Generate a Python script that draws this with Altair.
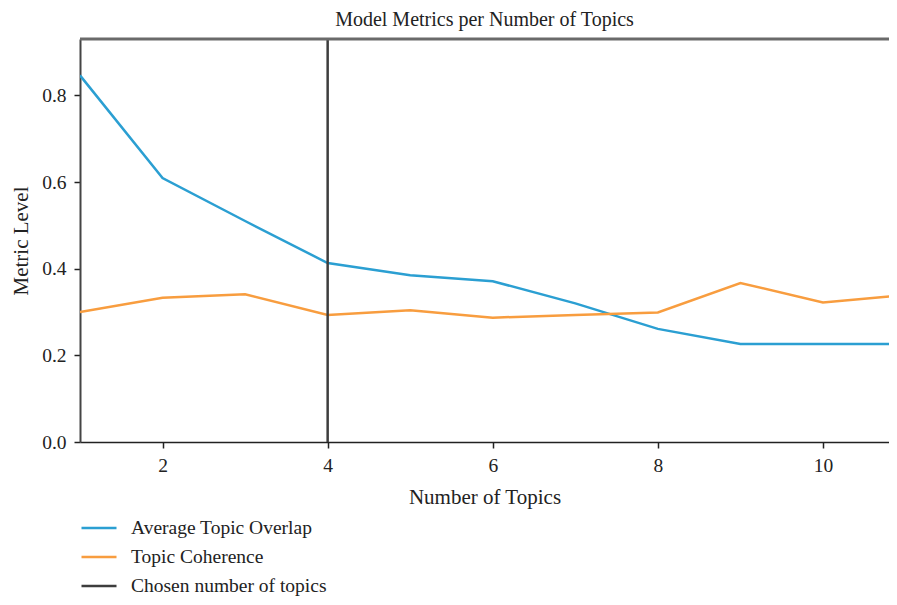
import altair as alt
import pandas as pd

topics = [1, 2, 3, 4, 5, 6, 7, 8, 9, 10, 11]
overlap = [0.846, 0.609, 0.51, 0.413, 0.385, 0.371, 0.32, 0.261, 0.226, 0.226, 0.226]
coherence = [0.300, 0.333, 0.341, 0.293, 0.304, 0.287, 0.293, 0.299, 0.367, 0.322, 0.339]
chosen_topics = [4]
series_names = ["Average Topic Overlap", "Topic Coherence", "Chosen number of topics"]
series_colors = ["#2b9fd2", "#f89d3f", "#3d3d3d"]
y_ticks = [0.0, 0.2, 0.4, 0.6, 0.8]
x_ticks = [2, 4, 6, 8, 10]
y_top = [0.93]

FONT = "Liberation Serif"

lines_df = pd.DataFrame(
    {"topics": topics * 2,
     "value": overlap + coherence,
     "series": [series_names[0]] * len(topics) + [series_names[1]] * len(topics)}
)
rule_df = pd.DataFrame({"topics": chosen_topics, "series": [series_names[2]]})
top_df = pd.DataFrame({"value": y_top})

x_scale = alt.Scale(domain=[1, 10.8], nice=False, zero=False)
y_scale = alt.Scale(domain=[0, y_top[0]], nice=False)
color_scale = alt.Scale(domain=series_names, range=series_colors)

legend = alt.Legend(
    title=None, orient="none", legendX=0, legendY=470,
    symbolType="stroke", symbolSize=1225, symbolStrokeWidth=2.5,
    labelFont=FONT, labelFontSize=19.5, labelColor="#222", labelOffset=13,
    labelLimit=0, rowPadding=-6,
)

lines = alt.Chart(lines_df).mark_line(clip=True, strokeWidth=2.5).encode(
    x=alt.X("topics:Q", scale=x_scale,
            axis=alt.Axis(values=x_ticks, title="Number of Topics", format="d",
                          grid=False, domainColor="#222", domainWidth=1.5,
                          tickColor="#222", tickSize=6, tickWidth=1.5,
                          labelPadding=8, titlePadding=12)),
    y=alt.Y("value:Q", scale=y_scale,
            axis=alt.Axis(values=y_ticks, title="Metric Level", format=".1f",
                          grid=False, domainColor="#444", domainWidth=2,
                          tickColor="#222", tickSize=6, tickWidth=1.5,
                          labelPadding=8, titlePadding=10)),
    color=alt.Color("series:N", scale=color_scale, legend=legend),
)

rule = alt.Chart(rule_df).mark_rule(strokeWidth=2.5).encode(
    x=alt.X("topics:Q", scale=x_scale),
    color=alt.Color("series:N", scale=color_scale, legend=legend),
)

top_frame = alt.Chart(top_df).mark_rule(strokeWidth=3, color="#6a6a6a").encode(
    y=alt.Y("value:Q", scale=y_scale),
)

chart = alt.layer(lines, rule, top_frame).properties(
    width=809, height=403,
    title=alt.Title("Model Metrics per Number of Topics", font=FONT, fontSize=20,
                    fontWeight="normal", color="#222", offset=8),
    autosize=alt.AutoSizeParams(type="none"),
    padding={"left": 72, "top": 31, "right": 0, "bottom": 155},
).configure_view(stroke=None).configure_axis(
    labelFont=FONT, labelFontSize=19.5, labelColor="#222",
    titleFont=FONT, titleFontSize=21, titleFontWeight="normal", titleColor="#222",
)

chart.save("out.html", embed_options={"renderer": "svg", "actions": False})
